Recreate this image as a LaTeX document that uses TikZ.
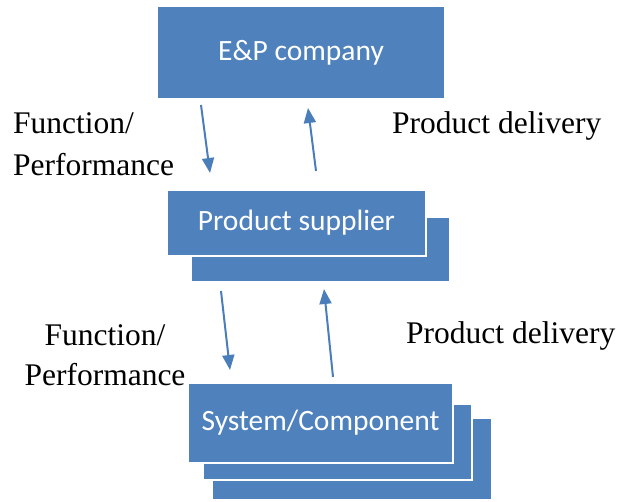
\documentclass[tikz,border=0pt]{standalone}
\usepackage{fontspec}
\setmainfont{Liberation Serif}
\newfontfamily\boxfont{Carlito}
\usetikzlibrary{arrows.meta}
\definecolor{boxblue}{HTML}{4F81BD}
\definecolor{arrowblue}{HTML}{4A7EBB}
\tikzset{
  box/.style={fill=boxblue,draw=white,line width=1.5pt,inner sep=0pt,outer sep=0pt,
    text=white,font=\boxfont\fontsize{29.5}{34}\selectfont},
  flow/.style={draw=arrowblue,line width=2pt,-{Triangle[width=12pt,length=15pt]}},
  lbl/.style={font=\fontsize{31.5}{42}\selectfont,inner sep=0pt}
}
\begin{document}
\begin{tikzpicture}[x=1pt,y=-1pt]
       \useasboundingbox(0,0)rectangle(621,501);
       % stacked boxes, back to front
       \node[box,minimum width=288pt,minimum height=93pt](ep)at(301,52.5){E\&P company};
       \node[box,minimum width=259pt,minimum height=65pt](sup2)at(320.5,249.5){};
       \node[box,minimum width=259pt,minimum height=66pt](supplier)at(296.5,223){Product supplier};
       \node[box,minimum width=280pt,minimum height=82pt](sys3)at(352,459){};
       \node[box,minimum width=269pt,minimum height=76pt](sys2)at(337.5,442){};
       \node[box,minimum width=265pt,minimum height=80pt](system)at(320.5,423){System/Component};
       % labels (base anchor sits on the last line)
       \node[lbl,anchor=base west,align=left](req1)at(13,175){Function/\\Performance};
       \node[lbl,anchor=base west](del1)at(392,133){Product delivery};
       \node[lbl,anchor=base,align=center,font=\fontsize{31.5}{40}\selectfont](req2)at(105,385){Function/\\Performance};
       \node[lbl,anchor=base west](del2)at(406,343){Product delivery};
       % arrow ends
       \coordinate(a1)at(201,105);
       \coordinate(b1)at(210,173);
       \coordinate(c1)at(316,171);
       \coordinate(d1)at(308,108);
       \coordinate(a2)at(221,291);
       \coordinate(b2)at(230,370);
       \coordinate(c2)at(333,377);
       \coordinate(d2)at(324,289);
       \draw[flow](a1)--(b1);
       \draw[flow](c1)--(d1);
       \draw[flow](a2)--(b2);
       \draw[flow](c2)--(d2);
      \end{tikzpicture}
\end{document}
